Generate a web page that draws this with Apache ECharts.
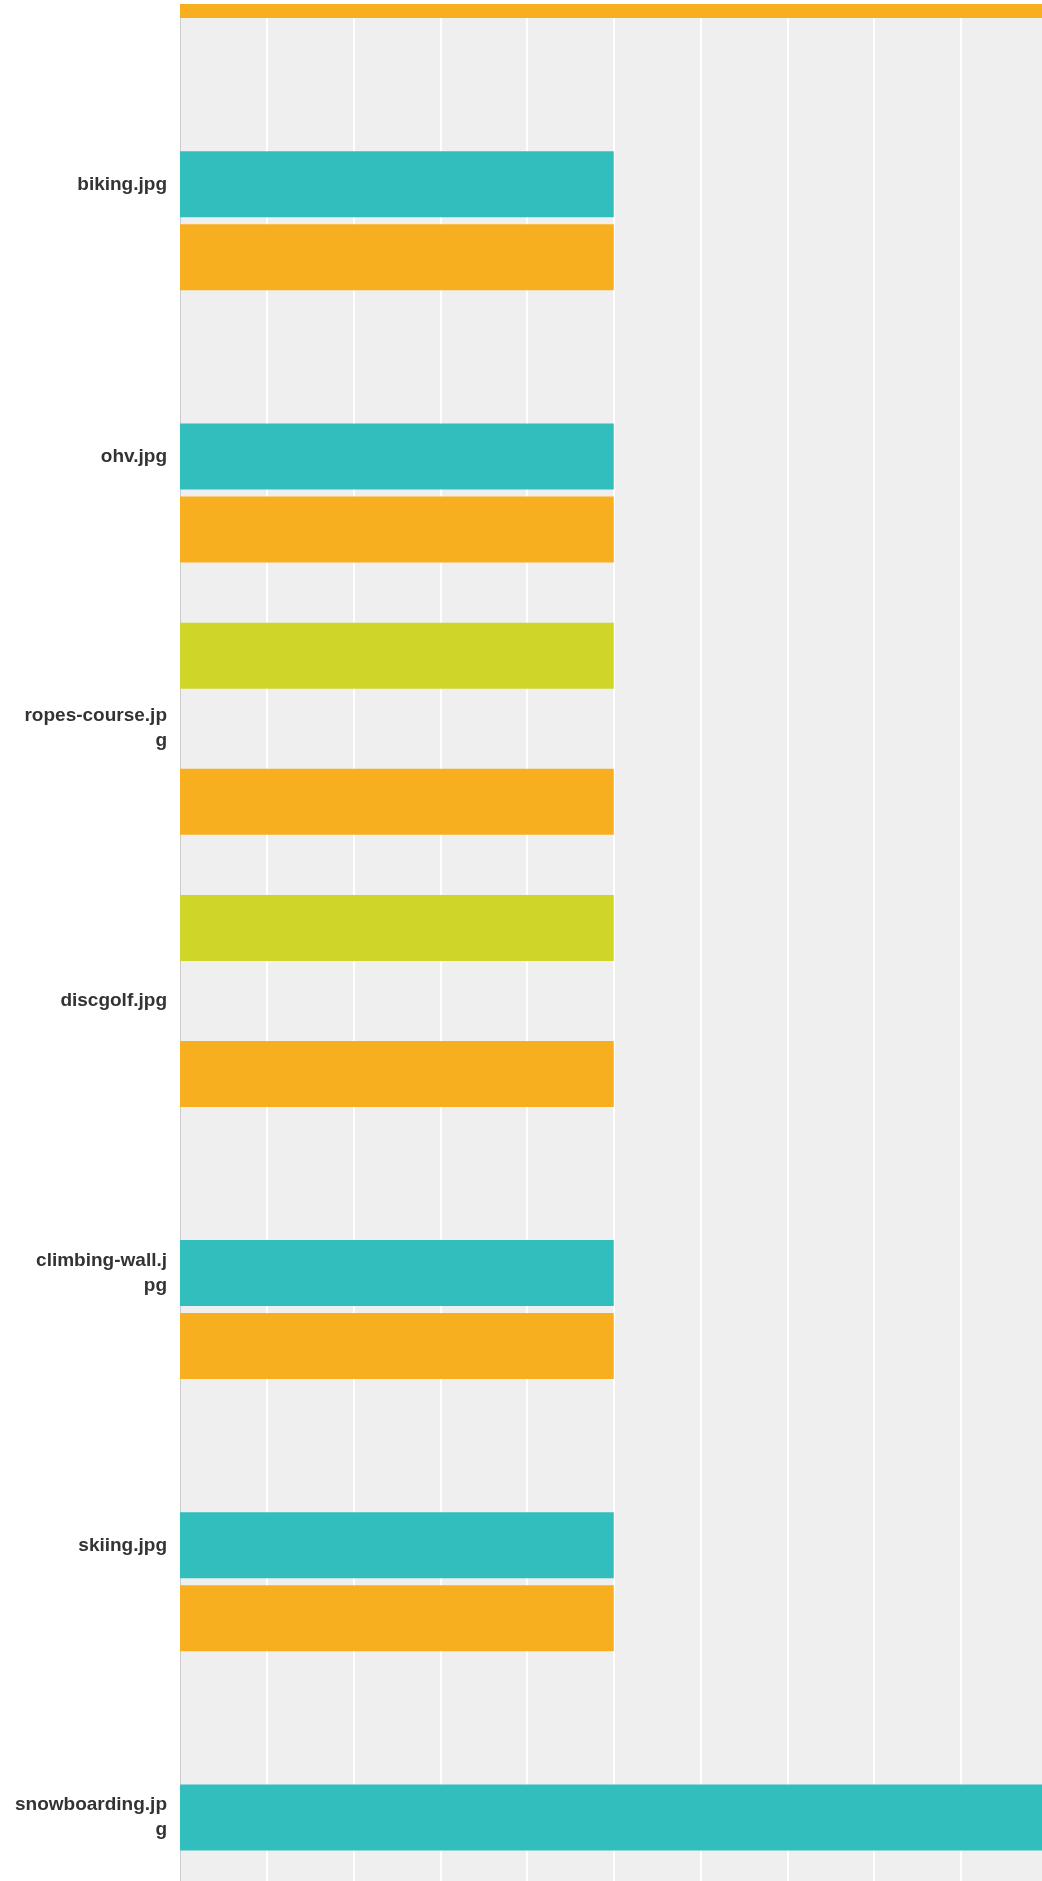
<!DOCTYPE html>
<html>
<head>
<meta charset="utf-8">
<script src="https://cdn.jsdelivr.net/npm/echarts@6/dist/echarts.min.js"></script>
<style>
  html, body { margin: 0; padding: 0; background: #ffffff; }
  #wrap { position: absolute; top: 4px; left: 0; width: 1042px; height: 1877px; overflow: hidden; }
  #chart { position: absolute; top: -228px; left: 0; width: 1042px; height: 2300px; }
</style>
</head>
<body>
<div id="wrap"><div id="chart"></div></div>
<script>
// Categories (top one is cut off in the reference)
const categories = ['hiking.jpg', 'biking.jpg', 'ohv.jpg', 'ropes-course.jpg', 'discgolf.jpg', 'climbing-wall.jpg', 'skiing.jpg', 'snowboarding.jpg'];
// Series values
const greenValues  = [null, null, null, 5, 5, null, null, null];
const tealValues   = [null, 5, 5, null, null, 5, 5, 10];
const orangeValues = [10, 5, 5, 5, 5, 5, 5, null];
// Value axis ticks
const xMin = 0;
const xMax = 10;
const xInterval = 1;

function wrapLabel(s) {
  const parts = [];
  for (let i = 0; i < s.length; i += 15) parts.push(s.slice(i, i + 15));
  return parts.join('\n');
}

const chart = echarts.init(document.getElementById('chart'), null, { renderer: 'canvas' });
const barCommon = { type: 'bar', barWidth: 66, barGap: '10.6%' };
chart.setOption({
  animation: false,
  backgroundColor: '#ffffff',
  grid: {
    left: 180, top: 0, width: 867.5, height: 2177.6,
    show: true, backgroundColor: '#efefef', borderWidth: 0,
    containLabel: false, outerBoundsMode: 'none'
  },
  xAxis: {
    type: 'value', min: xMin, max: xMax, interval: xInterval,
    axisLine: { show: false }, axisTick: { show: false }, axisLabel: { show: false },
    splitLine: { show: true, lineStyle: { color: '#ffffff', width: 2 } }
  },
  yAxis: {
    type: 'category', data: categories, inverse: true,
    axisLine: { show: true, lineStyle: { color: '#cccccc', width: 1 } },
    axisTick: { show: false },
    splitLine: { show: false },
    axisLabel: {
      formatter: wrapLabel,
      color: '#333333', fontWeight: 'bold', fontSize: 19, lineHeight: 25,
      fontFamily: 'Liberation Sans, Arial, sans-serif', margin: 13, align: 'right'
    }
  },
  series: [
    Object.assign({ name: 'green', data: greenValues, itemStyle: { color: '#cfd628' } }, barCommon),
    Object.assign({ name: 'teal', data: tealValues, itemStyle: { color: '#33bebe' } }, barCommon),
    Object.assign({ name: 'orange', data: orangeValues, itemStyle: { color: '#f7af1f' } }, barCommon)
  ]
});
</script>
</body>
</html>
